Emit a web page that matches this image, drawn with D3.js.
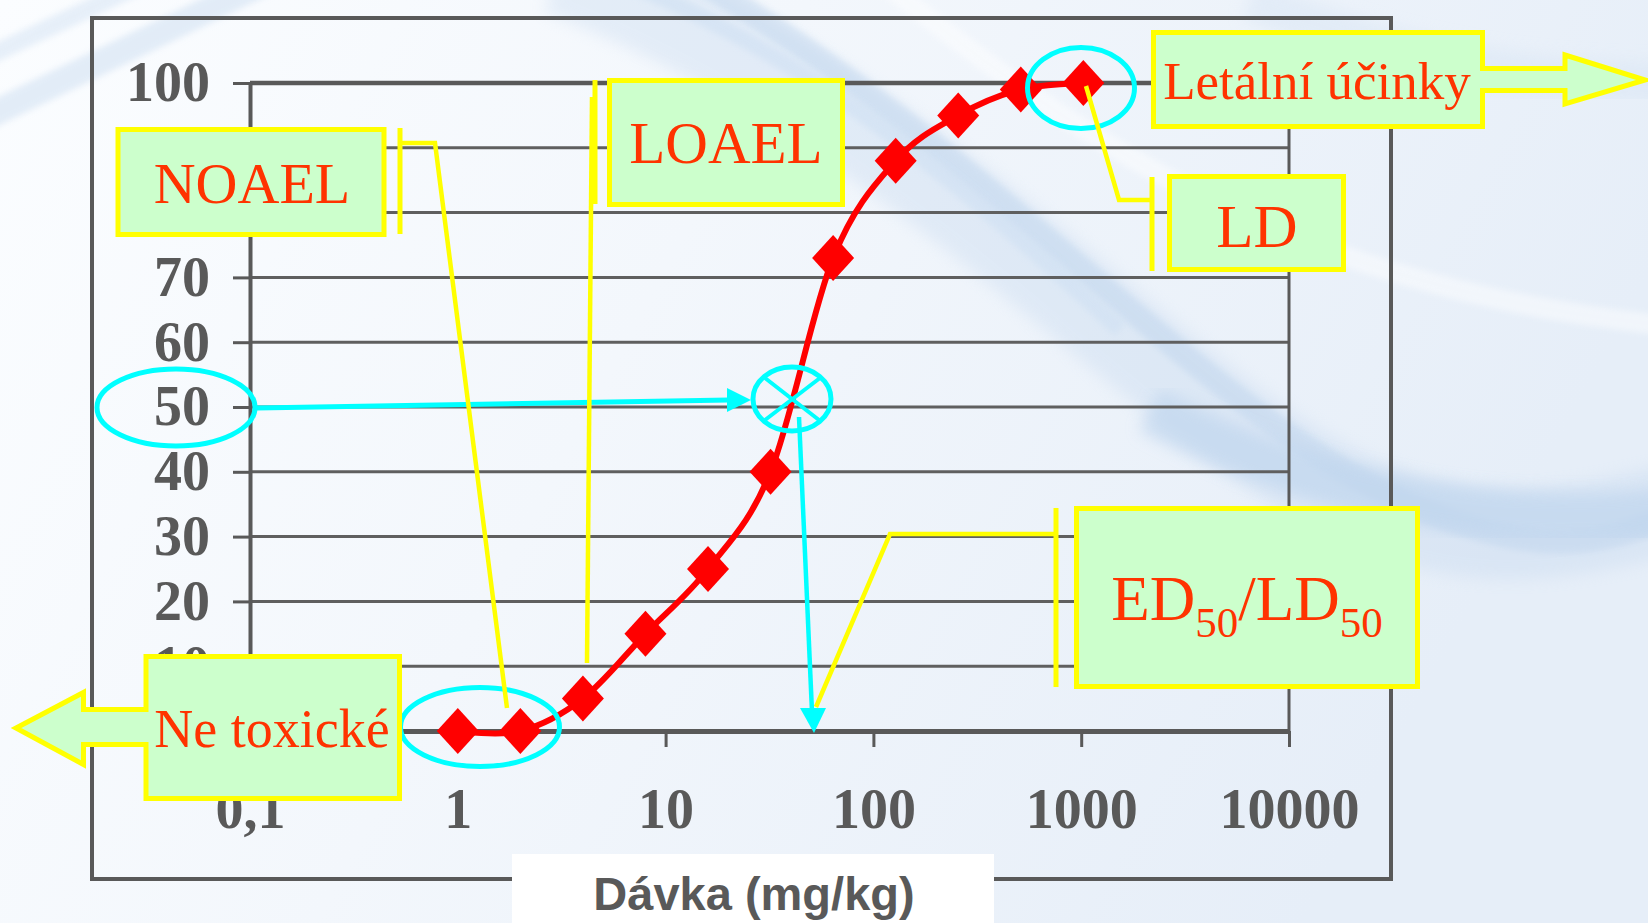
<!DOCTYPE html>
<html>
<head>
<meta charset="utf-8">
<script src="https://cdnjs.cloudflare.com/ajax/libs/d3/7.8.5/d3.min.js"></script>
<style>
  html, body { margin: 0; padding: 0; background: #ffffff; overflow: hidden; }
  svg { display: block; }
</style>
</head>
<body>
<svg id="chart" width="1648" height="923"></svg>
<script>
// ---------------- data ----------------
const doses = [1, 2, 4, 8, 16, 32, 64, 128, 256, 512, 1024];
const responses = [0, 0, 5, 15, 25, 40, 73, 88, 95, 99, 100];
const yTicks = [0, 10, 20, 30, 40, 50, 60, 70, 80, 90, 100];
// labels hidden behind the callout boxes in the original are left empty
const yTickLabels = ["", "10", "20", "30", "40", "50", "60", "70", "", "", "100"];
const xTicks = [0.1, 1, 10, 100, 1000, 10000];
const xTickLabels = ["0,1", "1", "10", "100", "1000", "10000"];
const axisTitle = "Dávka (mg/kg)";

// ---------------- setup ----------------
const W = 1648, H = 923;
const svg = d3.select("#chart");
const defs = svg.append("defs");

const serif = "'Liberation Serif', 'Times New Roman', serif";
const sans = "'Liberation Sans', Arial, sans-serif";
const gray = "#595959";
const boxFill = "#ccffcc";
const yellow = "#ffff00";
const cyan = "#00ffff";
const txtRed = "#ff3300";

// ---------------- background ----------------
const bg = defs.append("linearGradient").attr("id", "bgGrad")
  .attr("x1", 0).attr("y1", 0).attr("x2", 1).attr("y2", 0.3);
bg.append("stop").attr("offset", 0).attr("stop-color", "#fbfdff");
bg.append("stop").attr("offset", 0.45).attr("stop-color", "#f3f7fc");
bg.append("stop").attr("offset", 1).attr("stop-color", "#e6eef8");
defs.append("filter").attr("id", "blur8").attr("x", "-20%").attr("y", "-20%").attr("width", "140%").attr("height", "140%")
  .append("feGaussianBlur").attr("stdDeviation", 8);
defs.append("filter").attr("id", "blur3").attr("x", "-20%").attr("y", "-20%").attr("width", "140%").attr("height", "140%")
  .append("feGaussianBlur").attr("stdDeviation", 3);

svg.append("rect").attr("width", W).attr("height", H).attr("fill", "url(#bgGrad)");
const sw = svg.append("g").attr("fill", "none");
sw.append("path").attr("d", "M 560,-30 C 900,100 1120,360 1300,470 S 1600,520 1720,500")
  .attr("stroke", "#c3d7ee").attr("stroke-width", 90).attr("opacity", 0.35).attr("filter", "url(#blur8)");
sw.append("path").attr("d", "M 680,-30 C 980,140 1180,390 1380,490 S 1640,515 1720,505")
  .attr("stroke", "#bcd3ec").attr("stroke-width", 24).attr("opacity", 0.45).attr("filter", "url(#blur3)");
sw.append("path").attr("d", "M 1150,410 Q 1420,550 1720,505")
  .attr("stroke", "#c0d6ee").attr("stroke-width", 46).attr("opacity", 0.7).attr("filter", "url(#blur8)");
sw.append("path").attr("d", "M 880,-20 C 1080,140 1300,300 1720,330")
  .attr("stroke", "#ffffff").attr("stroke-width", 20).attr("opacity", 0.45).attr("filter", "url(#blur3)");
sw.append("path").attr("d", "M 620,-20 C 820,60 980,200 1120,330")
  .attr("stroke", "#cfe0f3").attr("stroke-width", 16).attr("opacity", 0.6).attr("filter", "url(#blur3)");
sw.append("path").attr("d", "M 1250,0 C 1400,60 1550,90 1720,80")
  .attr("stroke", "#dbe7f5").attr("stroke-width", 40).attr("opacity", 0.6).attr("filter", "url(#blur8)");
sw.append("path").attr("d", "M -20,120 L 270,-20")
  .attr("stroke", "#d3e2f3").attr("stroke-width", 26).attr("opacity", 0.6).attr("filter", "url(#blur3)");
sw.append("path").attr("d", "M -20,60 L 150,-20")
  .attr("stroke", "#d9e6f5").attr("stroke-width", 18).attr("opacity", 0.6).attr("filter", "url(#blur3)");

// ---------------- frame ----------------
svg.append("rect").attr("x", 92).attr("y", 18).attr("width", 1299).attr("height", 861)
  .attr("fill", "none").attr("stroke", gray).attr("stroke-width", 4);

// ---------------- scales ----------------
const x = d3.scaleLog().domain([0.1, 10000]).range([250, 1289]);
const y = d3.scaleLinear().domain([0, 100]).range([731, 83]);

// gridlines
svg.append("g").selectAll("line").data(yTicks.filter(v => v > 0 && v < 100)).join("line")
  .attr("x1", x(0.1)).attr("x2", x(10000))
  .attr("y1", d => y(d)).attr("y2", d => y(d))
  .attr("stroke", "#5f5f5f").attr("stroke-width", 3);
// top and right border
svg.append("line").attr("x1", x(0.1)).attr("x2", x(10000)).attr("y1", y(100)).attr("y2", y(100))
  .attr("stroke", gray).attr("stroke-width", 4.5);
svg.append("line").attr("x1", x(10000)).attr("x2", x(10000)).attr("y1", y(100)).attr("y2", y(0))
  .attr("stroke", gray).attr("stroke-width", 3);

// y axis
const yAxis = svg.append("g").attr("transform", `translate(${x(0.1)},0)`)
  .call(d3.axisLeft(y).tickValues(yTicks).tickFormat((d, i) => yTickLabels[i]).tickSize(17).tickSizeOuter(0).tickPadding(23));
yAxis.select(".domain").attr("stroke", gray).attr("stroke-width", 4);
yAxis.selectAll(".tick line").attr("stroke", gray).attr("stroke-width", 3);
yAxis.selectAll(".tick text").attr("fill", gray).style("font-family", serif)
  .style("font-size", "56px").style("font-weight", "bold");

// x axis
const xAxis = svg.append("g").attr("transform", `translate(0,${y(0)})`)
  .call(d3.axisBottom(x).tickValues(xTicks).tickFormat((d, i) => xTickLabels[i]).tickSize(16).tickSizeOuter(0).tickPadding(41));
xAxis.select(".domain").attr("stroke", gray).attr("stroke-width", 5);
xAxis.selectAll(".tick line").attr("stroke", gray).attr("stroke-width", 3);
xAxis.selectAll(".tick text").attr("fill", gray).style("font-family", serif)
  .style("font-size", "56px").style("font-weight", "bold");

// ---------------- series ----------------
const pts = doses.map((d, i) => ({ dose: d, r: responses[i] }));
const line = d3.line().x(d => x(d.dose)).y(d => y(d.r)).curve(d3.curveCatmullRom.alpha(0));
svg.append("path").datum(pts).attr("d", line)
  .attr("fill", "none").attr("stroke", "#ff0000").attr("stroke-width", 6).attr("stroke-linejoin", "round");
svg.append("g").selectAll("path").data(pts).join("path")
  .attr("transform", d => `translate(${x(d.dose)},${y(d.r)})`)
  .attr("d", "M0,-23 L21,0 L0,23 L-21,0 Z")
  .attr("fill", "#ff0000");

// ---------------- annotations ----------------
const ann = svg.append("g");

// cyan marks
const cy = ann.append("g").attr("fill", "none").attr("stroke", cyan).attr("stroke-width", 5);
cy.append("ellipse").attr("cx", 176).attr("cy", 407.5).attr("rx", 79).attr("ry", 38.5);
cy.append("line").attr("x1", 257).attr("y1", 408).attr("x2", 729).attr("y2", 400);
ann.append("path").attr("d", "M727,388 L751,400 L727,412 Z").attr("fill", cyan);
cy.append("ellipse").attr("cx", 792).attr("cy", 399).attr("rx", 39).attr("ry", 32);
cy.append("line").attr("x1", 765).attr("y1", 378).attr("x2", 819).attr("y2", 420).attr("stroke-width", 4);
cy.append("line").attr("x1", 820).attr("y1", 378).attr("x2", 765).attr("y2", 420).attr("stroke-width", 4);
cy.append("line").attr("x1", 799).attr("y1", 417).attr("x2", 812).attr("y2", 712).attr("stroke-width", 4.5);
ann.append("path").attr("d", "M800,708 L826,708 L814,733 Z").attr("fill", cyan);
cy.append("ellipse").attr("cx", 480).attr("cy", 727).attr("rx", 79.5).attr("ry", 39.5);
cy.append("ellipse").attr("cx", 1081).attr("cy", 88).attr("rx", 53.5).attr("ry", 40.5);

// yellow leaders / brackets
const yl = ann.append("g").attr("fill", "none").attr("stroke", yellow).attr("stroke-width", 4.5);
// NOAEL
yl.append("line").attr("x1", 400).attr("y1", 128).attr("x2", 400).attr("y2", 234).attr("stroke-width", 5);
yl.append("polyline").attr("points", "400,143 435,143 507,708");
// LOAEL
yl.append("line").attr("x1", 595).attr("y1", 80).attr("x2", 595).attr("y2", 204).attr("stroke-width", 5);
yl.append("line").attr("x1", 592).attr("y1", 97).attr("x2", 587).attr("y2", 663);
// LD
yl.append("line").attr("x1", 1152).attr("y1", 177).attr("x2", 1152).attr("y2", 271).attr("stroke-width", 5);
yl.append("polyline").attr("points", "1152,200 1119,200 1086,86");
// ED50
yl.append("line").attr("x1", 1056).attr("y1", 508).attr("x2", 1056).attr("y2", 687).attr("stroke-width", 5);
yl.append("polyline").attr("points", "1056,534 890,534 816,707");

// boxes
function box(x0, y0, w, h) {
  ann.append("rect").attr("x", x0).attr("y", y0).attr("width", w).attr("height", h)
    .attr("fill", boxFill).attr("stroke", yellow).attr("stroke-width", 5);
}
function label(cx, by, txt, size) {
  ann.append("text").attr("x", cx).attr("y", by).attr("text-anchor", "middle")
    .attr("fill", txtRed).style("font-family", serif).style("font-size", size + "px").text(txt);
}
box(118, 129.5, 266, 105);
label(252, 203, "NOAEL", 58);
box(609.5, 80.5, 233, 124);
label(726, 163, "LOAEL", 59);
box(1169.5, 176.5, 174, 93);
label(1257, 247, "LD", 61);
box(1076.5, 508.5, 341, 178);
const ed = ann.append("text").attr("x", 1247).attr("y", 620).attr("text-anchor", "middle")
  .attr("fill", txtRed).style("font-family", serif).style("font-size", "63px");
ed.append("tspan").text("ED");
ed.append("tspan").attr("dy", 17).style("font-size", "43px").text("50");
ed.append("tspan").attr("dy", -17).text("/LD");
ed.append("tspan").attr("dy", 17).style("font-size", "43px").text("50");

// Letální účinky: right arrow callout
ann.append("path")
  .attr("d", "M1153.5,32.5 L1482.5,32.5 L1482.5,68.5 L1565,68.5 L1565,55 L1645,80 L1565,104 L1565,90.5 L1482.5,90.5 L1482.5,126.5 L1153.5,126.5 Z")
  .attr("fill", boxFill).attr("stroke", yellow).attr("stroke-width", 5);
label(1317, 99, "Letální účinky", 53);

// Ne toxické: left arrow callout
ann.append("path")
  .attr("d", "M399.5,656.5 L399.5,798.5 L146,798.5 L146,744.5 L83.5,744.5 L83.5,764.5 L16,728 L83.5,692.5 L83.5,709.5 L146,709.5 L146,656.5 Z")
  .attr("fill", boxFill).attr("stroke", yellow).attr("stroke-width", 5);
label(272, 747, "Ne toxické", 54);

// ---------------- axis title ----------------
svg.append("rect").attr("x", 512).attr("y", 854).attr("width", 482).attr("height", 69).attr("fill", "#ffffff");
svg.append("text").attr("x", 754).attr("y", 910).attr("text-anchor", "middle")
  .attr("fill", gray).style("font-family", sans).style("font-size", "47px").style("font-weight", "bold")
  .text(axisTitle);
</script>
</body>
</html>
